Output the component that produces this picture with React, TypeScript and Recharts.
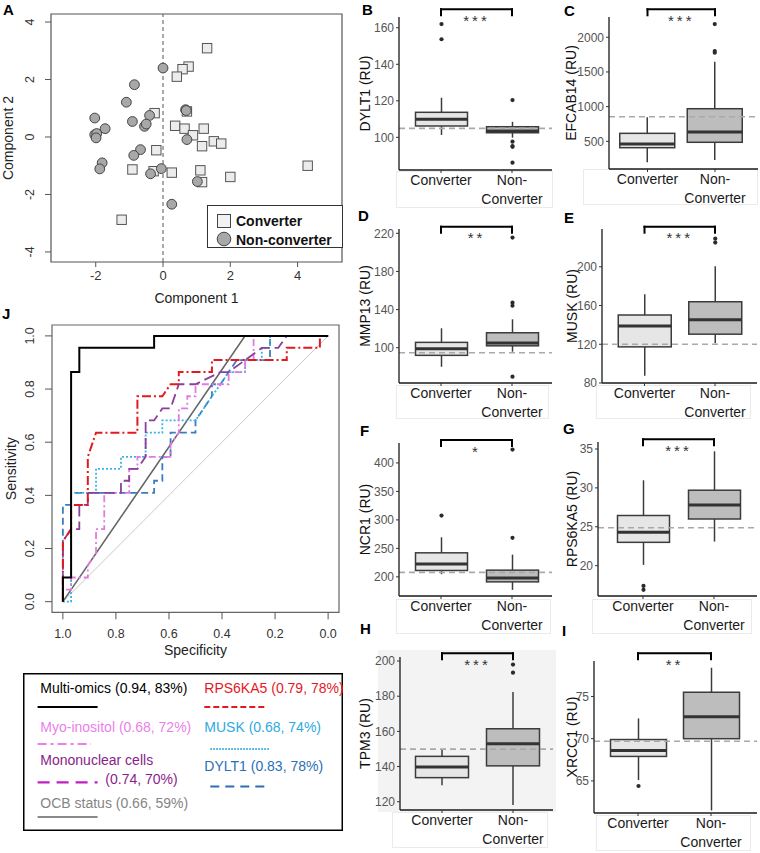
import React from 'react';
import {
  ComposedChart, ScatterChart, LineChart, Bar, Scatter, Line,
  XAxis, YAxis, ReferenceLine, ReferenceArea, Legend, Label,
} from 'recharts';

const FONT = '"Liberation Sans", Arial, Helvetica, sans-serif';

// A: scores on the first two components
const convX = [1.31, 0.76, 0.58, 0.41, -0.25, 0.71, 0.36, 0.64, 0.89, 1.21, 1.16, 1.51, 1.73, -0.2, -0.91, -0.28, 0.26, 1.11, 1.16, 2.0, 4.3, -1.23];
const convY = [3.09, 2.45, 2.36, 2.1, 0.83, 0.89, 0.39, 0.29, 0.06, 0.29, -0.32, -0.15, -0.23, -0.46, -1.13, -1.19, -1.24, -1.16, -1.57, -1.39, -1.0, -2.88];
const nonX = [0, -0.85, -1.09, -2.03, -0.91, -0.4, -0.55, -0.5, -1.72, -2.03, -1.97, -1.99, -0.67, -0.87, -1.81, -1.88, -0.37, -0.05, 0.67, 0.69, 0.71, 1.02, 0.26];
const nonY = [2.4, 1.82, 1.21, 0.66, 0.54, 0.75, 0.37, 0.45, 0.29, 0.08, 0.12, -0.03, -0.44, -0.64, -0.9, -1.11, -1.28, -1.1, 0.95, 0.92, -0.09, -1.55, -2.34];
const compXTicks = [-2, 0, 2, 4];
const compYTicks = [-4, -2, 0, 2, 4];

// B-I: boxplot stats [lower whisker, q1, median, q3, upper whisker]
const groups = ['Converter', 'Non-Converter'];
const dylt1Conv = [101.3, 106.2, 109.9, 113.7, 121.7];
const dylt1Non = [99.8, 102.5, 103.5, 105.8, 108.5];
const dylt1ConvOut = [162, 153.7];
const dylt1NonOut = [120.4, 97.6, 95.2, 94.8, 86.1];
const efcab14Conv = [197, 408, 461, 615, 846];
const efcab14Non = [231, 486, 634, 970, 1647];
const efcab14ConvOut: number[] = [];
const efcab14NonOut = [2190, 1801, 1777];
const mmp13Conv = [80, 92, 99, 105.6, 120.4];
const mmp13Non = [95.8, 102, 105, 115.7, 129.8];
const mmp13ConvOut: number[] = [];
const mmp13NonOut = [215.5, 147.2, 144, 69.6];
const muskConv = [87.4, 117.3, 138.8, 150.2, 171.6];
const muskNon = [121, 130.4, 145.4, 163.9, 200.6];
const muskConvOut: number[] = [];
const muskNonOut = [229, 225];
const ncr1Conv = [204.7, 211.2, 222.4, 242.2, 269.5];
const ncr1Non = [177.2, 191.2, 198, 211.8, 239];
const ncr1ConvOut = [307.6];
const ncr1NonOut = [268.5, 423.5];
const rpsConv = [20.1, 23.0, 24.3, 26.45, 30.98];
const rpsNon = [23.1, 26.0, 27.8, 29.7, 34.7];
const rpsConvOut = [17.4, 16.9];
const rpsNonOut: number[] = [];
const tpm3Conv = [129.4, 133.7, 139.8, 145.8, 149.5];
const tpm3Non = [118.1, 140.4, 153, 161.5, 182.4];
const tpm3ConvOut: number[] = [];
const tpm3NonOut = [198, 193.4];
const xrcc1Conv = [65.1, 67.9, 68.6, 69.9, 72.4];
const xrcc1Non = [61.5, 70.0, 72.6, 75.5, 78.4];
const xrcc1ConvOut = [64.4];
const xrcc1NonOut: number[] = [];

// J: ROC curves (specificity, sensitivity)
const multiSpec = [1, 1, 0.969, 0.969, 0.938, 0.938, 0.656, 0.656, 0];
const multiSens = [0, 0.091, 0.091, 0.864, 0.864, 0.955, 0.955, 1, 1];
const rpsSpec = [1, 1, 0.969, 0.969, 0.906, 0.906, 0.875, 0.719, 0.719, 0.625, 0.594, 0.563, 0.563, 0.438, 0.438, 0.156, 0.156, 0.031, 0.031, 0];
const rpsSens = [0, 0.227, 0.273, 0.364, 0.364, 0.545, 0.636, 0.636, 0.773, 0.773, 0.818, 0.818, 0.864, 0.864, 0.909, 0.909, 0.955, 0.955, 1, 1];
const myoSpec = [1, 1, 0.969, 0.969, 0.906, 0.906, 0.875, 0.875, 0.844, 0.844, 0.75, 0.75, 0.719, 0.719, 0.594, 0.594, 0.563, 0.563, 0.531, 0.531, 0.5, 0.5, 0.375, 0.375, 0.313, 0.313, 0.281, 0.281, 0];
const myoSens = [0, 0.045, 0.045, 0.091, 0.091, 0.136, 0.182, 0.273, 0.273, 0.409, 0.409, 0.5, 0.5, 0.545, 0.545, 0.591, 0.636, 0.727, 0.727, 0.773, 0.773, 0.818, 0.818, 0.864, 0.864, 0.909, 0.909, 1, 1];
const monoSpec = [1, 1, 0.969, 0.938, 0.938, 0.906, 0.906, 0.781, 0.781, 0.75, 0.75, 0.719, 0.688, 0.688, 0.656, 0.625, 0.594, 0.563, 0.5, 0.406, 0.375, 0.313, 0.25, 0.188, 0.156, 0];
const monoSens = [0, 0.227, 0.273, 0.273, 0.364, 0.364, 0.409, 0.409, 0.455, 0.455, 0.5, 0.5, 0.545, 0.682, 0.682, 0.727, 0.727, 0.818, 0.818, 0.864, 0.864, 0.909, 0.955, 0.955, 1, 1];
const muskSpec = [1, 0.969, 0.969, 0.875, 0.875, 0.781, 0.781, 0.688, 0.688, 0.625, 0.625, 0.5, 0.469, 0.438, 0.406, 0.375, 0.313, 0.313, 0.25, 0.25, 0.219, 0.219, 0];
const muskSens = [0, 0, 0.409, 0.409, 0.5, 0.5, 0.545, 0.545, 0.636, 0.636, 0.682, 0.682, 0.727, 0.773, 0.818, 0.864, 0.864, 0.909, 0.909, 0.955, 0.955, 1, 1];
const dyltSpec = [1, 1, 0.969, 0.969, 0.656, 0.656, 0.625, 0.625, 0.594, 0.594, 0.5, 0.5, 0.469, 0.438, 0.438, 0.406, 0.375, 0.344, 0.219, 0.219, 0];
const dyltSens = [0, 0.364, 0.364, 0.409, 0.409, 0.455, 0.455, 0.545, 0.545, 0.636, 0.636, 0.682, 0.727, 0.773, 0.818, 0.818, 0.864, 0.909, 0.909, 1, 1];
const ocbSpec = [1, 0.313, 0];
const ocbSens = [0, 1, 1];
const diagSpec = [1, 0];
const diagSens = [0, 1];
const rocTicks = [1, 0.8, 0.6, 0.4, 0.2, 0];

// legend text for J
const rocNames = ['Multi-omics', 'RPS6KA5', 'Myo-inositol', 'MUSK', 'Mononuclear cells', 'DYLT1', 'OCB status'];
const rocScores = ['(0.94, 83%)', '(0.79, 78%)', '(0.68, 72%)', '(0.68, 74%)', '(0.74, 70%)', '(0.83, 78%)', '(0.66, 59%)'];

const zip = (a: number[], b: number[]) => a.map((x, i) => ({ x, y: b[i] }));
const roc = (a: number[], b: number[]) => a.map((spec, i) => ({ spec, sens: b[i] }));

// ---------- shared bits ----------
function RotTick(props: any) {
  const { y, payload, center, digits } = props;
  const v = payload.value as number;
  const txt = digits ? v.toFixed(digits) : String(v);
  const bx = center + 4.4;
  return (
    <text x={bx} y={y} transform={`rotate(-90, ${bx}, ${y})`} textAnchor="middle" fontSize={12.5} fill="#333">
      {txt}
    </text>
  );
}

function GroupTick(props: any) {
  const { x, y, payload } = props;
  const lines = payload.value === 'Non-Converter' ? ['Non-', 'Converter'] : ['Converter'];
  return (
    <text x={x} y={y} textAnchor="middle" fontSize={14} fill="#1a1a1a">
      {lines.map((t, i) => (
        <tspan key={i} x={x} dy={i === 0 ? 10 : 19}>{t}</tspan>
      ))}
    </text>
  );
}

// whole box (whiskers, box, median, outliers) placed inside the ranged bar
function BoxShape(props: any) {
  const { x, y, width, height, payload } = props;
  const [lo, q1, med, q3, hi] = payload.stats as number[];
  const top = Math.min(y, y + height);
  const h = Math.abs(height);
  const py = (v: number) => top + ((hi - v) / (hi - lo)) * h;
  const cx = x + width / 2;
  const fill = payload.group === 'Converter' ? '#e6e6e6' : '#bdbdbd';
  return (
    <g>
      <line x1={cx} x2={cx} y1={py(hi)} y2={py(lo)} stroke="#3c3c3c" strokeWidth={1.5} />
      <rect x={x} y={py(q3)} width={width} height={py(q1) - py(q3)} fill={fill} stroke="#3c3c3c" strokeWidth={1.5} />
      <line x1={x} x2={x + width} y1={py(med)} y2={py(med)} stroke="#333" strokeWidth={3} />
      {(payload.out as number[]).map((v, i) => (
        <circle key={i} cx={cx} cy={py(v)} r={2.1} fill="#2b2b2b" />
      ))}
    </g>
  );
}

interface BoxPanelProps {
  labelX: number; top: number;
  plotLeft: number; plotRight: number; plotTop: number; plotBottom: number;
  centers: [number, number]; boxWidth: number; bracketY: number;
  domain: [number, number]; ticks: number[];
  yLabel: string; stars: string; cut: number;
  conv: number[]; non: number[]; convOut: number[]; nonOut: number[];
}

function BoxPanel(p: BoxPanelProps) {
  const chartLeft = p.labelX - 14;
  const axisW = p.plotLeft - chartLeft;
  const width = p.plotRight - chartLeft;
  const height = p.plotBottom - p.top + 45;
  const half = (p.centers[1] - p.centers[0]) / 2;
  const padding = { left: p.centers[0] - p.plotLeft - half, right: p.plotRight - p.centers[1] - half };
  const perUnit = (p.plotBottom - p.plotTop) / (p.domain[1] - p.domain[0]);
  const bracketVal = p.domain[1] + (p.plotTop - p.bracketY) / perUnit;
  const tickVal = bracketVal - 6 / perUnit;
  const data = [
    { group: groups[0], range: [p.conv[0], p.conv[4]], stats: p.conv, out: p.convOut },
    { group: groups[1], range: [p.non[0], p.non[4]], stats: p.non, out: p.nonOut },
  ];
  const brk = { stroke: '#000', strokeWidth: 2, strokeLinecap: 'square' as const, ifOverflow: 'visible' as const };
  return (
    <div style={{ position: 'absolute', left: chartLeft, top: p.top }}>
      <ComposedChart width={width} height={height} data={data} margin={{ top: p.plotTop - p.top, right: 0, bottom: 0, left: 0 }}>
        <XAxis
          dataKey="group" type="category" allowDuplicatedCategory={false} padding={padding}
          height={45} interval={0} tickSize={3} tickMargin={2}
          tickLine={{ stroke: '#333' }} axisLine={{ stroke: '#1a1a1a', strokeWidth: 1.3 }}
          tick={<GroupTick />}
        />
        <YAxis
          type="number" domain={p.domain} allowDataOverflow ticks={p.ticks} width={axisW}
          tickSize={3} tickMargin={2} tick={{ fontSize: 12, fill: '#555' }}
          tickLine={{ stroke: '#333' }} axisLine={{ stroke: '#1a1a1a', strokeWidth: 1.3 }}
        >
          <Label value={p.yLabel} angle={-90} position="center" dx={14 - axisW / 2} fontSize={14} fill="#111" />
        </YAxis>
        <Bar dataKey="range" barSize={p.boxWidth} shape={<BoxShape />} isAnimationActive={false} />
        <ReferenceLine y={p.cut} stroke="#a9a9a9" strokeWidth={1.6} strokeDasharray="6 4" />
        <ReferenceLine
          segment={[{ x: groups[0], y: bracketVal }, { x: groups[1], y: bracketVal }]}
          {...brk}
          label={{ value: p.stars, position: 'bottom', offset: 6, fontSize: 15, fill: '#333', letterSpacing: 3 }}
        />
        <ReferenceLine segment={[{ x: groups[0], y: bracketVal }, { x: groups[0], y: tickVal }]} {...brk} />
        <ReferenceLine segment={[{ x: groups[1], y: bracketVal }, { x: groups[1], y: tickVal }]} {...brk} />
      </ComposedChart>
    </div>
  );
}

// ---------- A ----------
const Square = (p: any) => (
  <rect x={p.cx - 4.7} y={p.cy - 4.7} width={9.4} height={9.4} fill="#ececec" stroke="#555" strokeWidth={1} />
);
const Dot = (p: any) => <circle cx={p.cx} cy={p.cy} r={4.9} fill="#a8a8a8" stroke="#444" strokeWidth={1} />;

function ScoreLegend() {
  return (
    <svg width={136} height={43} style={{ display: 'block' }}>
      <rect x={0.5} y={0.5} width={135} height={42} fill="#fff" stroke="#333" />
      <rect x={10.5} y={9.5} width={13} height={13} fill="#f2f2f2" stroke="#444" />
      <text x={29} y={21} fontSize={14} fontWeight="bold" fill="#111">Converter</text>
      <circle cx={17} cy={34} r={6.8} fill="#a8a8a8" stroke="#444" />
      <text x={29} y={39.5} fontSize={14} fontWeight="bold" fill="#111">Non-converter</text>
    </svg>
  );
}

function ScorePanel() {
  return (
    <div style={{ position: 'absolute', left: 0, top: 0 }}>
      <ScatterChart width={350} height={305} margin={{ top: 14, right: 8, bottom: 0, left: 0 }}>
        <XAxis
          dataKey="x" type="number" domain={[-3.33, 5.32]} allowDataOverflow ticks={compXTicks}
          tickSize={5} tickMargin={4} height={43} axisLine={false}
          tickLine={{ stroke: '#555' }} tick={{ fontSize: 13, fill: '#333' }}
        >
          <Label value="Component 1" position="center" dy={14.5} fontSize={14} fill="#222" />
        </XAxis>
        <YAxis
          dataKey="y" type="number" domain={[-4.35, 4.28]} allowDataOverflow ticks={compYTicks}
          width={51} tickSize={6} axisLine={false} tickLine={{ stroke: '#555' }}
          tick={(t: any) => <RotTick {...t} center={30} />}
        >
          <Label value="Component 2" angle={-90} position="center" dx={-17} fontSize={14} fill="#222" />
        </YAxis>
        <ReferenceLine x={0} stroke="#555" strokeDasharray="4 3" />
        <Scatter data={zip(convX, convY)} shape={<Square />} isAnimationActive={false} />
        <Scatter data={zip(nonX, nonY)} shape={<Dot />} isAnimationActive={false} />
        <ReferenceArea x1={-3.33} x2={5.32} y1={-4.35} y2={4.28} fill="none" stroke="#555" strokeWidth={1.2} />
        <Legend
          layout="horizontal" verticalAlign="middle" align="center"
          content={() => <ScoreLegend />}
          wrapperStyle={{ left: 207, top: 205, width: 136, height: 43 }}
        />
      </ScatterChart>
    </div>
  );
}

// ---------- J ----------
const rocStyle = {
  multi: { stroke: '#000', strokeWidth: 2, dash: undefined as string | undefined },
  rps: { stroke: '#e3191f', strokeWidth: 2, dash: '9 3 2 3' },
  myo: { stroke: '#e27ae2', strokeWidth: 1.8, dash: '7 3 2 3' },
  mono: { stroke: '#8b3f9c', strokeWidth: 1.8, dash: '11 5' },
  musk: { stroke: '#3bb2e6', strokeWidth: 1.8, dash: '2 2' },
  dylt: { stroke: '#3a7cbf', strokeWidth: 1.8, dash: '7 4' },
  ocb: { stroke: '#666', strokeWidth: 1.6, dash: undefined as string | undefined },
};

function RocLegend() {
  const t = { fontSize: 14 };
  return (
    <svg width={320} height={158} style={{ display: 'block' }}>
      <rect x={0.75} y={0.75} width={318.5} height={156.5} fill="#fff" stroke="#000" strokeWidth={1.5} />
      <text x={17.3} y={20} {...t} fill="#000">{`${rocNames[0]} ${rocScores[0]}`}</text>
      <line x1={14.6} x2={74.6} y1={34} y2={34} stroke="#000" strokeWidth={2} />
      <text x={181.3} y={20} {...t} fill="#e3191f">{`${rocNames[1]} ${rocScores[1]}`}</text>
      <line x1={181.3} x2={243} y1={34} y2={34} stroke="#e3191f" strokeWidth={2} strokeDasharray="6 3" />
      <text x={17.3} y={59.4} {...t} fill="#ea7fea">{`${rocNames[2]} ${rocScores[2]}`}</text>
      <line x1={14.6} x2={68} y1={71} y2={71} stroke="#ea7fea" strokeWidth={2} strokeDasharray="9 4 3 4" />
      <text x={181.3} y={59.4} {...t} fill="#2fa9e0">{`${rocNames[3]} ${rocScores[3]}`}</text>
      <line x1={187.3} x2={247.3} y1={76} y2={76} stroke="#2fa9e0" strokeWidth={1.8} strokeDasharray="1.5 1.5" />
      <text x={17.3} y={92.4} {...t} fill="#8a1c8a">{rocNames[4]}</text>
      <line x1={14.6} x2={74.6} y1={109.4} y2={109.4} stroke="#c21fc2" strokeWidth={2.4} strokeDasharray="12 7" />
      <text x={82.3} y={111} {...t} fill="#8a1c8a">{rocScores[4]}</text>
      <text x={181.3} y={98.4} {...t} fill="#2a6fb5">{`${rocNames[5]} ${rocScores[5]}`}</text>
      <line x1={187.3} x2={247.3} y1={113.4} y2={113.4} stroke="#2a6fb5" strokeWidth={2} strokeDasharray="9 6" />
      <text x={17.3} y={135} {...t} fill="#858585">{`${rocNames[6]} ${rocScores[6]}`}</text>
      <line x1={14.6} x2={74.6} y1={144} y2={144} stroke="#8a8a8a" strokeWidth={2} />
    </svg>
  );
}

function RocPanel() {
  const series: [number[], number[], keyof typeof rocStyle][] = [
    [ocbSpec, ocbSens, 'ocb'],
    [dyltSpec, dyltSens, 'dylt'],
    [muskSpec, muskSens, 'musk'],
    [myoSpec, myoSens, 'myo'],
    [monoSpec, monoSens, 'mono'],
    [rpsSpec, rpsSens, 'rps'],
    [multiSpec, multiSens, 'multi'],
  ];
  return (
    <div style={{ position: 'absolute', left: 0, top: 310 }}>
      <LineChart width={348} height={530} margin={{ top: 15, right: 9, bottom: 174.7, left: 0 }}>
        <XAxis
          dataKey="spec" type="number" domain={[-0.041, 1.041]} allowDataOverflow reversed ticks={rocTicks}
          tickFormatter={(v: number) => v.toFixed(1)} tickSize={7} tickMargin={10} height={53}
          axisLine={false} tickLine={{ stroke: '#555' }} tick={{ fontSize: 12.5, fill: '#333' }}
        >
          <Label value="Specificity" position="center" dy={11} fontSize={14} fill="#222" />
        </XAxis>
        <YAxis
          type="number" domain={[-0.04, 1.041]} allowDataOverflow ticks={rocTicks} width={52}
          tickSize={7} axisLine={false} tickLine={{ stroke: '#555' }}
          tick={(t: any) => <RotTick {...t} center={30} digits={1} />}
        >
          <Label value="Sensitivity" angle={-90} position="center" dx={-15} fontSize={14} fill="#222" />
        </YAxis>
        <Line data={roc(diagSpec, diagSens)} dataKey="sens" type="linear" stroke="#c8c8c8" strokeWidth={1} dot={false} isAnimationActive={false} />
        {series.map(([s, v, k]) => (
          <Line
            key={k} data={roc(s, v)} dataKey="sens" type="linear"
            stroke={rocStyle[k].stroke} strokeWidth={rocStyle[k].strokeWidth} strokeDasharray={rocStyle[k].dash}
            dot={false} isAnimationActive={false}
          />
        ))}
        <ReferenceArea x1={-0.041} x2={1.041} y1={-0.04} y2={1.041} fill="none" stroke="#666" strokeWidth={1.2} />
        <Legend
          layout="horizontal" verticalAlign="middle" align="center"
          content={() => <RocLegend />}
          wrapperStyle={{ left: 22.7, top: 363.3, width: 320, height: 158 }}
        />
      </LineChart>
    </div>
  );
}

const letterStyle = { fontSize: 15, fontWeight: 'bold' as const, fill: '#000' };

export default function App() {
  return (
    <div style={{ position: 'absolute', left: 0, top: 0, width: 760, height: 853, background: '#fff', fontFamily: FONT, overflow: 'hidden' }}>
      <svg width={760} height={853} style={{ position: 'absolute', left: 0, top: 0 }}>
        <rect x={378} y={650} width={178} height={162} fill="#f3f3f3" />
        <g fill="none" stroke="#ebebeb">
          <rect x={396.5} y={171.5} width={156} height={36} />
          <rect x={583.5} y={169.5} width={174} height={35} />
          <rect x={396.5} y={385.5} width={152} height={33} />
          <rect x={596.5} y={385.5} width={154} height={33} />
          <rect x={396.5} y={599.5} width={154} height={34} />
          <rect x={592.5} y={599.5} width={159} height={34} />
          <rect x={392.5} y={812.5} width={155} height={35} />
          <rect x={596.5} y={815.5} width={154} height={35} />
        </g>
      </svg>

      <ScorePanel />

      <BoxPanel labelX={365} top={0} plotLeft={399} plotRight={552} plotTop={17} plotBottom={170}
        centers={[441, 512]} boxWidth={52} bracketY={9.3} domain={[82.1, 165.9]} ticks={[100, 120, 140, 160]}
        yLabel="DYLT1 (RU)" stars="***" cut={104.9}
        conv={dylt1Conv} non={dylt1Non} convOut={dylt1ConvOut} nonOut={dylt1NonOut} />
      <BoxPanel labelX={571} top={0} plotLeft={609} plotRight={758} plotTop={17} plotBottom={169}
        centers={[647.5, 715]} boxWidth={55} bracketY={9.3} domain={[101, 2292]} ticks={[500, 1000, 1500, 2000]}
        yLabel="EFCAB14 (RU)" stars="***" cut={855}
        conv={efcab14Conv} non={efcab14Non} convOut={efcab14ConvOut} nonOut={efcab14NonOut} />
      <BoxPanel labelX={365} top={213} plotLeft={399} plotRight={552} plotTop={229} plotBottom={383}
        centers={[441, 512]} boxWidth={52} bracketY={226.7} domain={[63, 224.5]} ticks={[100, 140, 180, 220]}
        yLabel="MMP13 (RU)" stars="**" cut={94.8}
        conv={mmp13Conv} non={mmp13Non} convOut={mmp13ConvOut} nonOut={mmp13NonOut} />
      <BoxPanel labelX={572} top={213} plotLeft={602} plotRight={757} plotTop={229} plotBottom={383}
        centers={[644.5, 715]} boxWidth={53} bracketY={226.7} domain={[80, 239]} ticks={[80, 120, 160, 200]}
        yLabel="MUSK (RU)" stars="***" cut={120}
        conv={muskConv} non={muskNon} convOut={muskConvOut} nonOut={muskNonOut} />
      <BoxPanel labelX={365} top={428} plotLeft={399} plotRight={552} plotTop={443} plotBottom={596}
        centers={[441, 512]} boxWidth={52} bracketY={440} domain={[166.4, 435]} ticks={[200, 250, 300, 350, 400]}
        yLabel="NCR1 (RU)" stars="*" cut={207.8}
        conv={ncr1Conv} non={ncr1Non} convOut={ncr1ConvOut} nonOut={ncr1NonOut} />
      <BoxPanel labelX={572} top={428} plotLeft={598} plotRight={757} plotTop={442} plotBottom={596}
        centers={[643, 714]} boxWidth={52} bracketY={439.3} domain={[16.1, 35.9]} ticks={[20, 25, 30, 35]}
        yLabel="RPS6KA5 (RU)" stars="***" cut={24.87}
        conv={rpsConv} non={rpsNon} convOut={rpsConvOut} nonOut={rpsNonOut} />
      <BoxPanel labelX={365} top={640} plotLeft={400} plotRight={553} plotTop={657} plotBottom={810}
        centers={[442, 513]} boxWidth={53} bracketY={653.3} domain={[115.3, 202.3]} ticks={[120, 140, 160, 180, 200]}
        yLabel="TPM3 (RU)" stars="***" cut={149.9}
        conv={tpm3Conv} non={tpm3Non} convOut={tpm3ConvOut} nonOut={tpm3NonOut} />
      <BoxPanel labelX={572} top={640} plotLeft={594} plotRight={757} plotTop={661} plotBottom={813}
        centers={[638, 711]} boxWidth={56} bracketY={653.3} domain={[61.2, 79.2]} ticks={[65, 70, 75]}
        yLabel="XRCC1 (RU)" stars="**" cut={69.7}
        conv={xrcc1Conv} non={xrcc1Non} convOut={xrcc1ConvOut} nonOut={xrcc1NonOut} />

      <RocPanel />

      <svg width={760} height={853} style={{ position: 'absolute', left: 0, top: 0, pointerEvents: 'none' }}>
        <text x={3} y={15} {...letterStyle}>A</text>
        <text x={362} y={15} {...letterStyle}>B</text>
        <text x={564} y={16} {...letterStyle}>C</text>
        <text x={358} y={221} {...letterStyle}>D</text>
        <text x={564} y={223} {...letterStyle}>E</text>
        <text x={360} y={436} {...letterStyle}>F</text>
        <text x={563} y={434} {...letterStyle}>G</text>
        <text x={360} y={634} {...letterStyle}>H</text>
        <text x={562} y={636} {...letterStyle}>I</text>
        <text x={2} y={319} {...letterStyle}>J</text>
      </svg>
    </div>
  );
}
